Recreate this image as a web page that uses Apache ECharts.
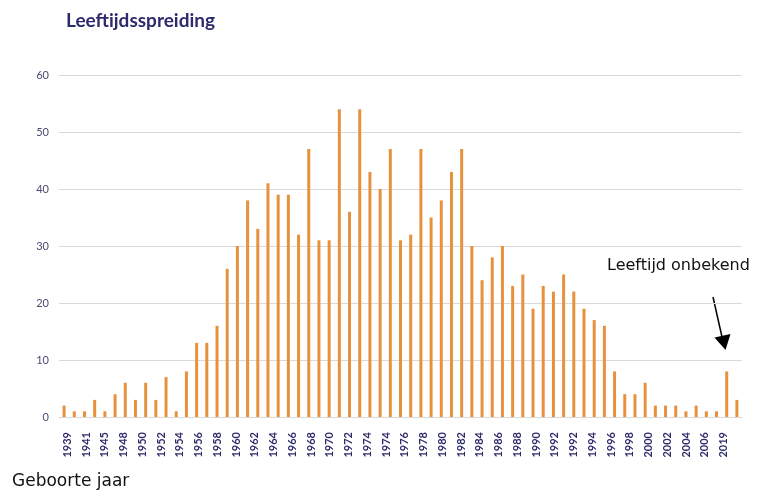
<!DOCTYPE HTML>
<html>
<head>
<meta charset="utf-8">
<title>Leeftijdsspreiding</title>
<style>
html, body { margin: 0; padding: 0; background: #fff; }
#container { width: 757px; height: 492px; }
</style>
</head>
<body>
<div id="container"></div>

<script src="https://cdn.jsdelivr.net/npm/echarts@6/dist/echarts.min.js"></script>
<script type="text/javascript">

// aantal personen per geboortejaar (67 staven, van links naar rechts)
var aantallen = [
	2, 1, 1, 3, 1, 4, 6, 3, 6, 3, 7, 1, 8, 13, 13, 16, 26, 30, 38, 33, 41, 39, 39, 32,
	47, 31, 31, 54, 36, 54, 43, 40, 47, 31, 32, 47, 35, 38, 43, 47, 30, 24, 28, 30, 23, 25, 19,
	23, 22, 25, 22, 19, 17, 16, 8, 4, 4, 6, 2, 2, 2, 1, 2, 1, 1, 8, 3
];

// jaartallen zoals ze onder de as staan
var asLabels = [
	'1939', '1941', '1945', '1948', '1950', '1952', '1954', '1956', '1958', '1960',
	'1962', '1964', '1966', '1968', '1970', '1972', '1974', '1974', '1976', '1978',
	'1980', '1982', '1984', '1986', '1988', '1990', '1992', '1992', '1994', '1996',
	'1998', '2000', '2002', '2004', '2006', '2019'
];

var yTicks = [0, 10, 20, 30, 40, 50, 60];

var categorieen = [];
for (var i = 0; i < aantallen.length; i++) {
	categorieen.push(String(i + 1));
}

var dom = document.getElementById("container");
var myChart = echarts.init(dom, null, { renderer: 'canvas' });

var navy = '#2d2b6b';
var oranje = '#e8913d';

var option = {
	backgroundColor: '#fff',
	animation: false,
	title: {
		text: 'Leeftijdsspreiding',
		left: 61,
		top: 6,
		textStyle: { fontFamily: 'Lato', fontWeight: 'bold', fontSize: 19, color: navy }
	},
	grid: [
		{ left: 59, right: 15, top: 75, bottom: 75 },
		// alleen voor de jaartal-labels onder de as
		{ left: 58, right: 24, top: 75, bottom: 75 }
	],
	xAxis: [{
		type: 'category',
		gridIndex: 0,
		data: categorieen,
		axisLine: { lineStyle: { color: '#d9d9d9' } },
		axisTick: { show: false },
		axisLabel: { show: false }
	}, {
		type: 'category',
		gridIndex: 1,
		data: asLabels,
		axisLine: { show: false },
		axisTick: { show: false },
		axisLabel: {
			interval: 0,
			rotate: 90,
			margin: 15,
			fontFamily: 'Lato',
			fontWeight: 'bold',
			fontSize: 11,
			color: navy
		}
	}],
	yAxis: [{
		type: 'value',
		gridIndex: 0,
		min: yTicks[0],
		max: yTicks[yTicks.length - 1],
		interval: 10,
		axisLine: { show: false },
		axisTick: { show: false },
		splitLine: { lineStyle: { color: '#d9d9d9', width: 1 } },
		axisLabel: { margin: 10, fontFamily: 'Lato', fontSize: 11, color: '#4a4a72' }
	}, {
		type: 'value',
		gridIndex: 1,
		min: 0,
		max: 60,
		show: false
	}],
	series: [{
		name: 'Aantal',
		type: 'bar',
		xAxisIndex: 0,
		yAxisIndex: 0,
		data: aantallen,
		barWidth: 3,
		itemStyle: { color: oranje }
	}],
	graphic: [{
		type: 'text',
		left: 12,
		top: 473,
		style: { text: 'Geboorte jaar', fontFamily: 'DejaVu Sans', fontSize: 17, fill: '#111' }
	}, {
		type: 'text',
		left: 607,
		top: 258,
		style: { text: 'Leeftijd onbekend', fontFamily: 'DejaVu Sans', fontSize: 16, fill: '#111' }
	}, {
		// pijl naar de staaf met onbekende leeftijd
		type: 'line',
		shape: { x1: 713, y1: 297, x2: 722, y2: 337 },
		style: { stroke: '#000', lineWidth: 1.5 }
	}, {
		type: 'polygon',
		shape: { points: [[725.5, 350], [730.5, 334], [714.5, 337.5]] },
		style: { fill: '#000' }
	}]
};

myChart.setOption(option);
</script>
</body>
</html>
